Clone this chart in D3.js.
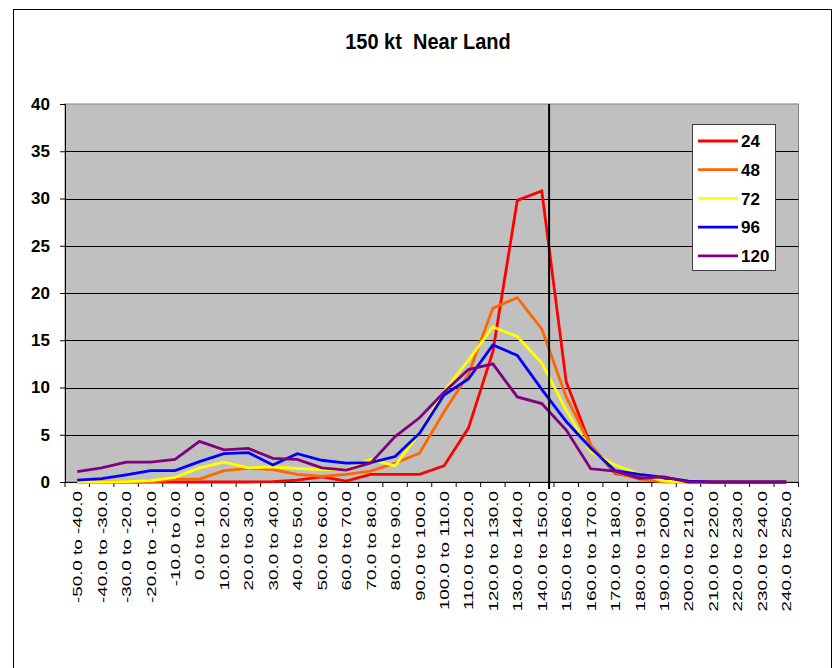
<!DOCTYPE html>
<html>
<head>
<meta charset="utf-8">
<script src="https://cdn.jsdelivr.net/npm/d3@7"></script>
<style>
  html, body { margin: 0; padding: 0; background: #fff; }
  svg { display: block; font-family: "Liberation Sans", Arial, sans-serif; }
</style>
</head>
<body>
<svg id="chart" width="833" height="668"></svg>
<script>
// ---- data ----
const categories = [
  "-50.0 to -40.0", "-40.0 to -30.0", "-30.0 to -20.0", "-20.0 to -10.0", "-10.0 to 0.0",
  "0.0 to 10.0", "10.0 to 20.0", "20.0 to 30.0", "30.0 to 40.0", "40.0 to 50.0",
  "50.0 to 60.0", "60.0 to 70.0", "70.0 to 80.0", "80.0 to 90.0", "90.0 to 100.0",
  "100.0 to 110.0", "110.0 to 120.0", "120.0 to 130.0", "130.0 to 140.0", "140.0 to 150.0",
  "150.0 to 160.0", "160.0 to 170.0", "170.0 to 180.0", "180.0 to 190.0", "190.0 to 200.0",
  "200.0 to 210.0", "210.0 to 220.0", "220.0 to 230.0", "230.0 to 240.0", "240.0 to 250.0"
];
const seriesNames = ["24", "48", "72", "96", "120"];
const seriesColors = ["#FF0000", "#FF6600", "#FFFF00", "#0000FF", "#800080"];
const s24  = [0,0,0,0,0,0,0,0,0.05,0.2,0.55,0.1,0.8,0.8,0.8,1.7,5.7,13.8,29.8,30.8,10.6,3.9,0.9,0.5,0.2,0,0,0,0,0];
const s48  = [0,0,0,0,0.3,0.3,1.2,1.45,1.3,0.8,0.6,0.8,1.15,2.0,3.05,7.4,11.4,18.4,19.5,16.2,9.0,3.9,1.0,0.3,0,0,0,0,0,0];
const s72  = [0,0,0.05,0.15,0.5,1.5,2.1,1.5,1.6,1.45,1.3,1.3,2.4,1.7,5.2,9.6,12.9,16.4,15.4,12.6,7.6,3.2,1.8,0.85,0.1,0,0,0,0,0];
const s96  = [0.2,0.35,0.75,1.2,1.2,2.15,3.0,3.1,1.8,3.0,2.3,2.0,2.05,2.7,5.15,9.2,10.9,14.5,13.4,9.8,6.4,3.6,1.2,0.8,0.5,0.1,0,0,0,0];
const s120 = [1.1,1.5,2.1,2.1,2.4,4.3,3.4,3.55,2.5,2.4,1.5,1.25,2.0,4.8,6.8,9.5,11.9,12.5,9.0,8.3,5.5,1.4,1.15,0.4,0.55,0,0,0,0,0];
const seriesValues = [s24, s48, s72, s96, s120];
const yTicks = [0, 5, 10, 15, 20, 25, 30, 35, 40];
const ktRange = [-50, 250];
const refLineValue = 148;
const title = "150 kt  Near Land";

// ---- layout ----
const svg = d3.select("#chart");
const W = 833, H = 668;
const plot = { left: 65, right: 798.5, top: 104, bottom: 482 };

svg.append("rect").attr("x", 0).attr("y", 0).attr("width", W).attr("height", H).attr("fill", "#fff");
svg.append("rect").attr("x", 13.5).attr("y", 9.5).attr("width", 818).attr("height", 700)
  .attr("fill", "none").attr("stroke", "#000").attr("stroke-width", 1);

svg.append("text").attr("x", 428).attr("y", 49).attr("text-anchor", "middle")
  .attr("font-size", 20).attr("font-weight", "bold")
  .attr("transform", "translate(0,-5) scale(1,1.1)")
  .style("white-space", "pre").attr("xml:space", "preserve").text(title);

const x = d3.scaleBand().domain(categories).range([plot.left, plot.right]).padding(0);
const xc = c => x(c) + x.bandwidth() / 2;
const y = d3.scaleLinear().domain([0, 40]).range([plot.bottom, plot.top]);
const xk = d3.scaleLinear().domain(ktRange).range([plot.left, plot.right]);

// plot background
svg.append("rect").attr("x", plot.left).attr("y", plot.top)
  .attr("width", plot.right - plot.left).attr("height", plot.bottom - plot.top)
  .attr("fill", "#C0C0C0").attr("stroke", "#808080").attr("stroke-width", 1);

// gridlines
svg.append("g").selectAll("line").data(yTicks.filter(t => t > 0 && t < 40)).join("line")
  .attr("x1", plot.left).attr("x2", plot.right)
  .attr("y1", d => Math.round(y(d)) + 0.5).attr("y2", d => Math.round(y(d)) + 0.5)
  .attr("stroke", "#000").attr("stroke-width", 1);

// y axis
const yAxis = d3.axisLeft(y).tickValues(yTicks).tickSize(5).tickPadding(10).tickFormat(d3.format("d"));
const gy = svg.append("g").attr("transform", `translate(${plot.left},0)`).call(yAxis);
gy.select(".domain").attr("stroke", "#000");
gy.selectAll(".tick line").attr("stroke", "#000");
gy.selectAll(".tick text").attr("font-size", 17).attr("font-weight", "bold")
  .attr("fill", "#000").attr("font-family", "Liberation Sans, Arial, sans-serif");

// x axis line and ticks at category boundaries
svg.append("line").attr("x1", plot.left).attr("x2", plot.right)
  .attr("y1", plot.bottom + 0.5).attr("y2", plot.bottom + 0.5).attr("stroke", "#000");
const bounds = categories.map(c => x(c)).concat([plot.right]);
svg.append("g").selectAll("line").data(bounds).join("line")
  .attr("x1", d => d).attr("x2", d => d)
  .attr("y1", plot.bottom).attr("y2", plot.bottom + 5).attr("stroke", "#000");

// x labels (stretched along their length like the reference)
svg.append("g").selectAll("text").data(categories).join("text")
  .attr("transform", c => `translate(${xc(c) + 5},${plot.bottom + 9}) rotate(-90) scale(1.45,1)`)
  .attr("text-anchor", "end").attr("font-size", 13).attr("fill", "#000").text(c => c);

// series lines
const line = d3.line().x((d, i) => xc(categories[i])).y(d => y(d));
svg.append("g").selectAll("path").data(seriesValues).join("path")
  .attr("d", d => line(d)).attr("fill", "none")
  .attr("stroke", (d, i) => seriesColors[i]).attr("stroke-width", 2.8)
  .attr("stroke-linejoin", "miter");

// reference line
svg.append("line").attr("x1", xk(refLineValue)).attr("x2", xk(refLineValue))
  .attr("y1", plot.top).attr("y2", plot.bottom + 7).attr("stroke", "#000").attr("stroke-width", 2);

// legend
const lg = svg.append("g").attr("transform", "translate(692,124)");
lg.append("rect").attr("x", 0.5).attr("y", 0.5).attr("width", 83).attr("height", 146)
  .attr("fill", "#fff").attr("stroke", "#404040").attr("stroke-width", 1);
const items = lg.selectAll("g").data(seriesNames).join("g")
  .attr("transform", (d, i) => `translate(0,${17 + i * 28.7})`);
items.append("line").attr("x1", 6).attr("x2", 46).attr("y1", 0).attr("y2", 0)
  .attr("stroke", (d, i) => seriesColors[i]).attr("stroke-width", 2.8);
items.append("text").attr("x", 49).attr("y", 0).attr("dy", "0.36em")
  .attr("font-size", 17).attr("font-weight", "bold").text(d => d);
</script>
</body>
</html>
